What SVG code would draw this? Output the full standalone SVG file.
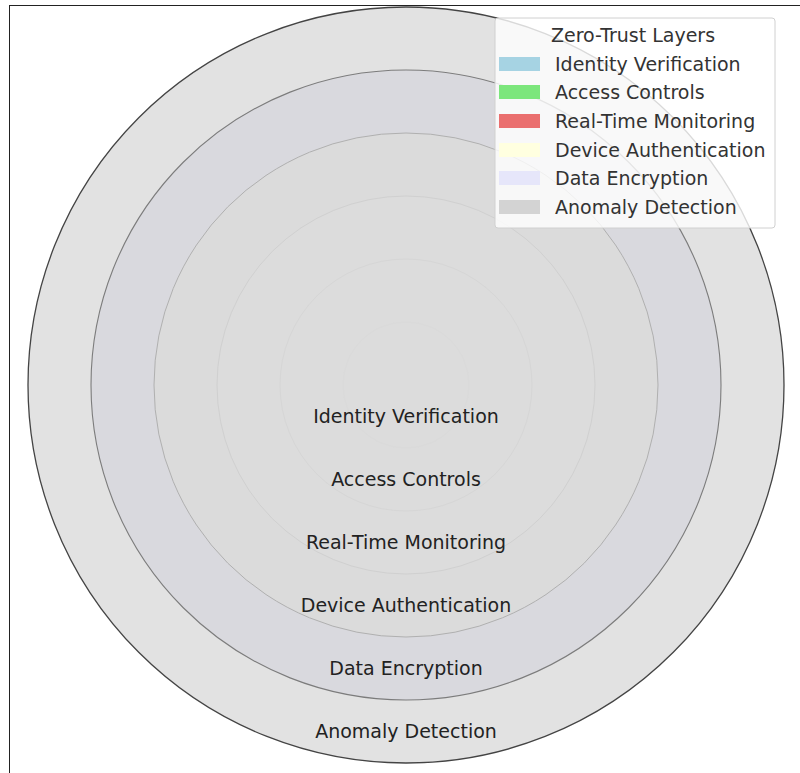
<svg xmlns="http://www.w3.org/2000/svg" width="800" height="773" viewBox="0 0 800 773">
<style>
text{font-family:"DejaVu Sans","Liberation Sans",sans-serif;font-size:19px;fill:#222}
.lbl{text-anchor:middle}
.leg{fill:#333}
</style>
<rect x="0" y="0" width="800" height="773" fill="#fff"/>
<rect x="9.5" y="5.5" width="820" height="820" fill="none" stroke="#222" stroke-width="1"/>
<g id="anomaly-detection"><circle cx="406" cy="385" r="378" fill="#e2e2e2" stroke="#444" stroke-width="1.3"/></g>
<g id="data-encryption"><circle cx="406" cy="385" r="315" fill="#d9d9de" stroke="#7c7c7c" stroke-width="1.1"/></g>
<g id="device-authentication"><circle cx="406" cy="385" r="252" fill="#dbdbdb" stroke="#b0b0b0" stroke-width="1"/></g>
<g id="real-time-monitoring"><circle cx="406" cy="385" r="189" fill="#dcdcdc" stroke="#d0d0d0" stroke-width="1"/></g>
<g id="access-controls"><circle cx="406" cy="385" r="126" fill="#dcdcdc" stroke="#d6d6d6" stroke-width="1"/></g>
<g id="identity-verification"><circle cx="406" cy="385" r="63" fill="#dcdcdc" stroke="#dadada" stroke-width="1"/></g>
<g id="labels">
<text class="lbl" x="406" y="423">Identity Verification</text>
<text class="lbl" x="406" y="486">Access Controls</text>
<text class="lbl" x="406" y="549">Real-Time Monitoring</text>
<text class="lbl" x="406" y="612">Device Authentication</text>
<text class="lbl" x="406" y="675">Data Encryption</text>
<text class="lbl" x="406" y="738">Anomaly Detection</text>
</g>
<g id="connectors"></g>
<g id="legend">
<rect x="495" y="18" width="280" height="210" rx="3" fill="#fff" fill-opacity="0.8" stroke="#d0d0d0" stroke-width="1"/>
<text class="leg" x="633" y="42" text-anchor="middle">Zero-Trust Layers</text>
<rect x="499" y="57" width="41" height="14" fill="#a6d3e3"/>
<rect x="499" y="85" width="41" height="14" fill="#7ce67c"/>
<rect x="499" y="114" width="41" height="14" fill="#ea6f6f"/>
<rect x="499" y="143" width="41" height="14" fill="#ffffe0"/>
<rect x="499" y="171" width="41" height="14" fill="#e6e6fa"/>
<rect x="499" y="200" width="41" height="14" fill="#d3d3d3"/>
<text class="leg" x="555" y="71">Identity Verification</text>
<text class="leg" x="555" y="99">Access Controls</text>
<text class="leg" x="555" y="128">Real-Time Monitoring</text>
<text class="leg" x="555" y="157">Device Authentication</text>
<text class="leg" x="555" y="185">Data Encryption</text>
<text class="leg" x="555" y="214">Anomaly Detection</text>
</g>
</svg>
